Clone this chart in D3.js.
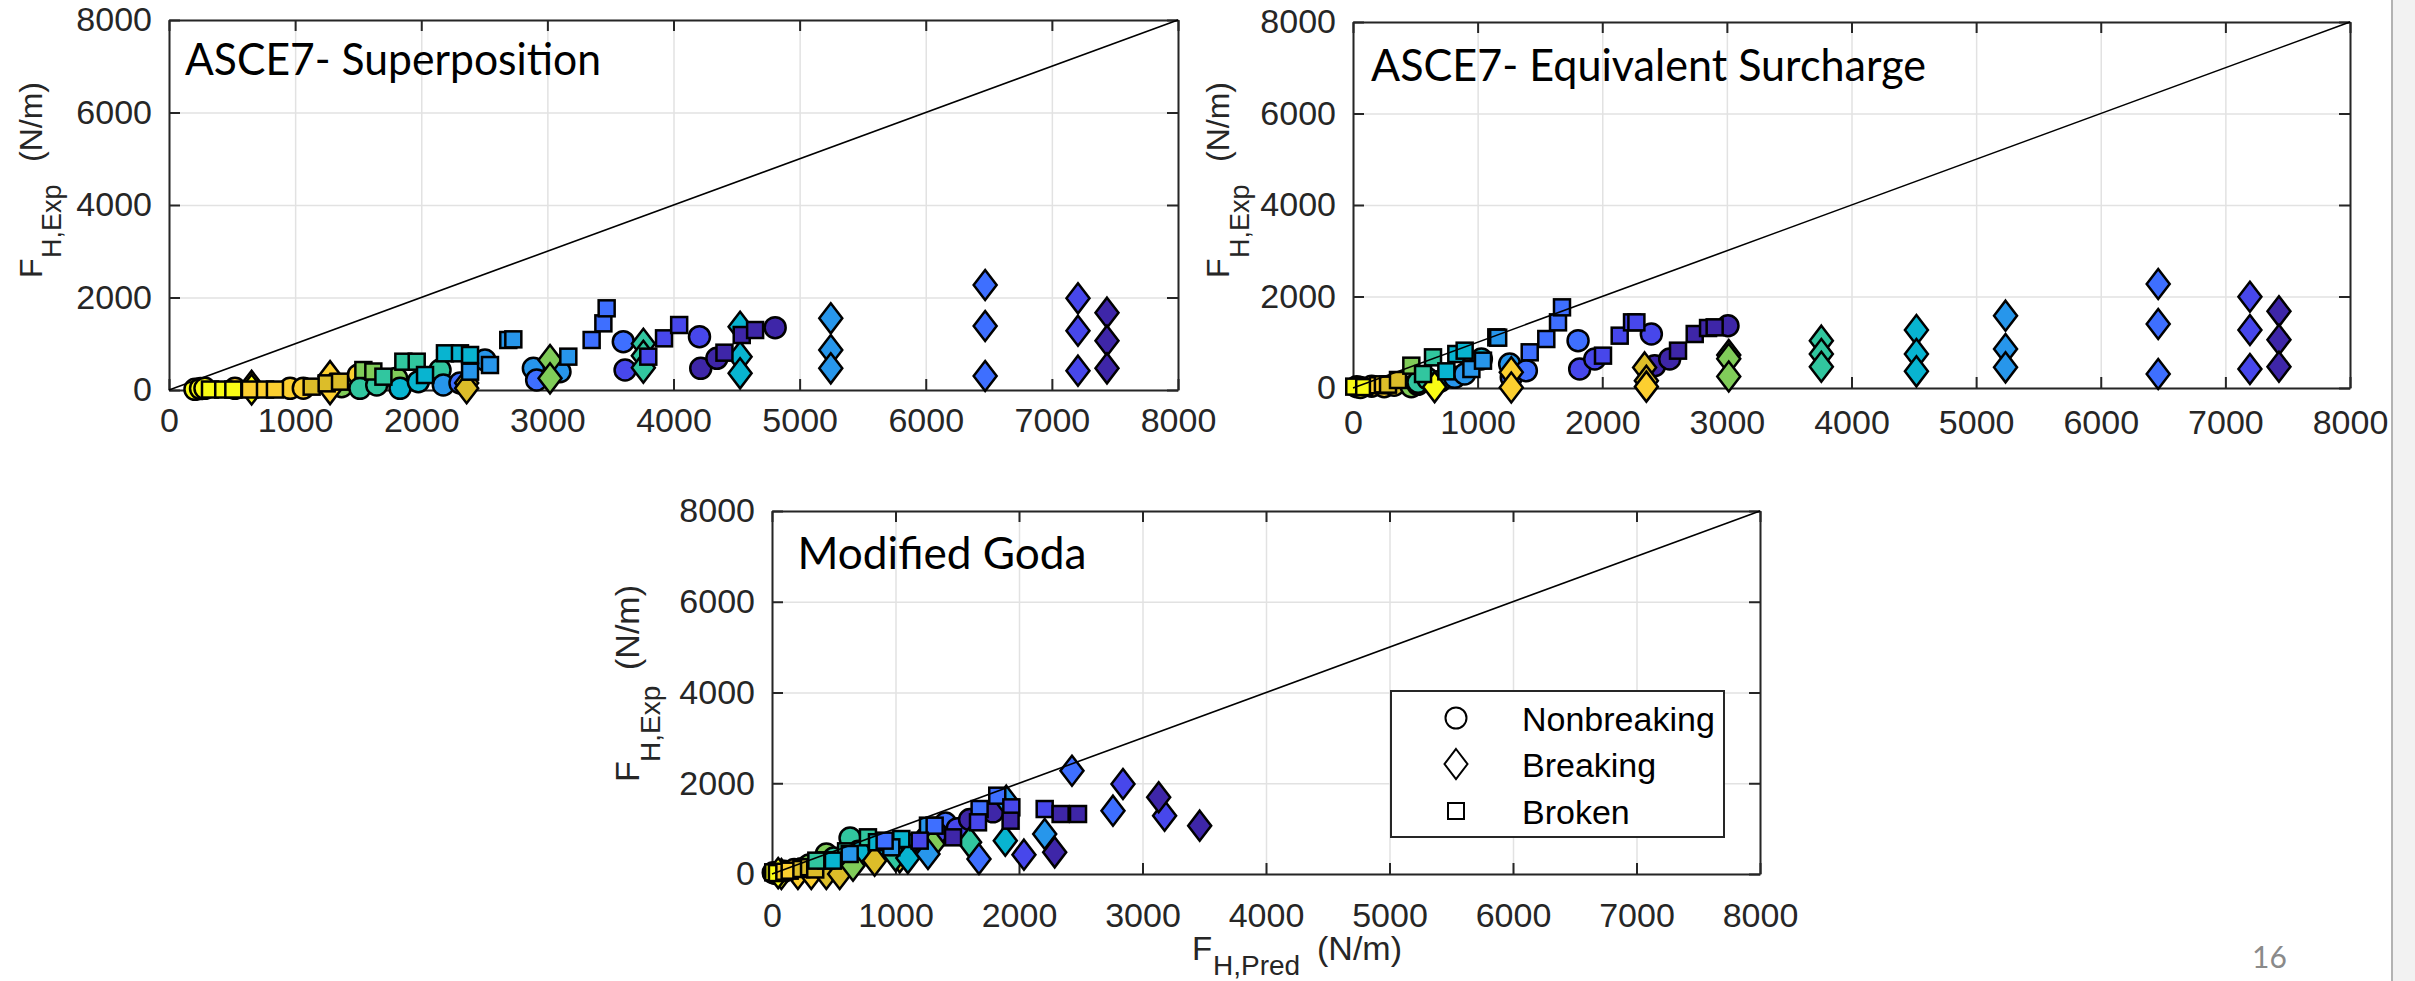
<!DOCTYPE html>
<html><head><meta charset="utf-8">
<script src="https://cdn.jsdelivr.net/npm/d3@7"></script>
<style>body{margin:0;background:#fff;}svg{display:block;}</style>
</head><body>
<svg id="c" width="2415" height="981"></svg>
<script>
// ---------------- DATA ----------------
// parula colour classes (0 = dark violet ... 9 = yellow)
const parula = ["#3e26a8","#4747eb","#3e6fff","#2796eb","#08b4d0","#31c69f","#80cc59","#dcbd29","#fccf30","#f9fb15"];
const xTicks = [0,1000,2000,3000,4000,5000,6000,7000,8000];
const yTicks = [0,2000,4000,6000,8000];
const panelTitles = ["ASCE7- Superposition","ASCE7- Equivalent Surcharge","Modified Goda"];
const legendLabels = ["Nonbreaking","Breaking","Broken"];
const pageNumber = "16";

// each point: [F_H,Pred (N/m), F_H,Exp (N/m), colour class]
const supCircles = [[206,14,9],[250,30,9],[285,36,9],[523,36,8],[960,36,8],[1065,40,8],[1501,324,8],
  [1369,72,6],[1805,252,6],[1514,36,5],[1647,108,5],[2149,432,5],[1832,36,4],[1977,180,4],
  [2175,108,3],[2505,649,3],[2889,468,3],[3100,396,3],[2307,150,2],[2915,216,2],[3602,1045,2],
  [3616,432,1],[4206,1153,1],[4216,468,0],[4344,685,0],[4806,1348,0]];
const supSquares = [[325,10,9],[430,10,9],[510,10,9],[642,10,8],[761,10,8],[840,10,8],
  [1131,72,7],[1250,144,7],[1356,180,7],[1541,432,6],[1620,400,6],[1700,288,5],[1858,612,5],[1964,612,5],
  [2030,324,4],[2188,793,4],[2307,793,4],[2387,757,4],[2387,396,3],[2545,540,3],[2690,1081,3],[2730,1095,3],[3166,721,3],
  [3351,1081,2],[3444,1441,2],[3470,1766,2],[3800,721,1],[3925,1117,1],[4045,1405,1],
  [4404,807,0],[4541,1189,0],[4647,1297,0]];
const supDiamonds = [[655,90,9],[655,10,9],[1277,300,8],[1277,20,8],[2360,150,7],[2360,40,7],
  [3021,649,6],[3021,252,6],[3761,1000,5],[3761,740,5],[3761,480,5],[4528,1369,4],[4528,721,4],[4528,360,4],
  [5247,1549,3],[5247,865,3],[5247,468,3],[6471,2270,2],[6471,1384,2],[6471,303,2],
  [7207,1982,1],[7207,1283,1],[7207,418,1],[7437,1672,0],[7437,1067,0],[7437,468,0]];

const eqCircles = [[30,30,9],[60,10,9],[150,40,8],[250,30,8],[330,60,7],[468,30,6],[520,80,6],
  [522,124,5],[600,200,5],[700,150,4],[1030,634,4],[816,233,3],[896,306,3],[1257,525,3],
  [1270,233,2],[1391,379,2],[1806,1035,2],[1819,415,1],[1940,634,1],[2394,1180,1],
  [2421,488,0],[2541,634,0],[3009,1362,0]];
const eqSquares = [[10,30,9],[90,20,9],[200,60,8],[240,80,8],[281,73,7],[361,175,7],[468,488,6],
  [562,306,5],[642,670,5],[749,364,4],[829,743,4],[896,816,4],[950,415,3],[1043,597,3],[1150,1107,3],[1165,1100,3],
  [1418,780,2],[1551,1071,2],[1645,1435,2],[1677,1763,2],[2006,707,1],[2140,1144,1],[2239,1435,1],[2274,1435,1],
  [2608,816,0],[2742,1180,0],[2849,1311,0],[2902,1326,0]];
const eqDiamonds = [[655,20,9],[1270,342,8],[1270,10,8],[2340,450,7],[2354,160,7],[2354,30,8],
  [3015,720,6],[3015,640,6],[3015,250,6],[3758,1035,5],[3758,743,5],[3758,466,5],
  [4521,1268,4],[4521,743,4],[4521,364,4],[5236,1581,3],[5236,852,3],[5236,452,3],
  [6461,2273,2],[6461,1399,2],[6461,306,2],[7197,1996,1],[7197,1268,1],[7197,415,1],
  [7430,1676,0],[7430,1056,0],[7430,466,0]];

const godaCircles = [[10,30,9],[30,10,9],[100,60,8],[180,100,8],[250,120,7],[300,200,6],[440,440,6],
  [500,350,5],[632,793,5],[700,500,4],[900,650,4],[1100,650,3],[1250,800,3],
  [1405,1124,2],[1603,1190,2],[1330,900,1],[1500,1000,1],[1600,1200,0],[1789,1370,0]];
const godaSquares = [[10,37,9],[40,20,9],[100,50,8],[143,73,8],[238,110,7],[300,150,7],[350,100,7],[440,300,6],
  [359,294,5],[777,808,5],[600,500,5],[494,294,4],[850,700,4],[1047,771,4],[629,441,3],[966,588,3],[1263,1065,3],
  [912,735,2],[1317,1065,2],[1681,1432,2],[1824,1726,2],[1196,735,1],[1668,1139,1],[1938,1469,1],[2208,1432,1],
  [1466,808,0],[1932,1175,0],[2337,1322,0],[2478,1322,0]];
const godaDiamonds = [[76,0,9],[50,20,9],[210,0,8],[318,0,8],[440,0,7],[548,0,7],[831,294,7],[1034,367,7],
  [656,184,6],[1304,661,6],[1000,400,5],[1600,698,5],[1100,350,4],[1889,735,4],
  [1263,441,3],[1897,1616,3],[2208,882,3],[1676,331,2],[2429,2277,2],[2761,1396,2],
  [2040,426,1],[2842,1983,1],[3179,1286,1],[2289,477,0],[3131,1690,0],[3463,1065,0]];

// ---------------- LAYOUT ----------------
const W = 2415, H = 981;
const AX = "#262626";
const MFONT = "'Liberation Sans', Arial, sans-serif";
const TFONT = "Lato, 'Open Sans', sans-serif";
const MSW = 2.5; // marker edge width

const svg = d3.select("#c");
svg.append("rect").attr("width", W).attr("height", H).attr("fill", "#fff");
svg.append("rect").attr("x", 2393).attr("y", 0).attr("width", W - 2393).attr("height", H).attr("fill", "#f2f2f2");
svg.append("line").attr("x1", 2392).attr("x2", 2392).attr("y1", 0).attr("y2", H)
  .attr("stroke", "#9a9a9a").attr("stroke-width", 1.5);

const panels = [
  {name: panelTitles[0], circles: supCircles, squares: supSquares, diamonds: supDiamonds,
   box: {l: 169, r: 1178, t: 20, b: 390}, xPad: 18, tpos: {x: 185, y: 75, len: 416},
   ylab: {x: 41.5, y: 278, fm: 32, fs: 27, subX: 20, subDy: 19.5, unitX: 116}},
  {name: panelTitles[1], circles: eqCircles, squares: eqSquares, diamonds: eqDiamonds,
   box: {l: 1353, r: 2350, t: 22, b: 388}, xPad: 22, tpos: {x: 1371, y: 81, len: 555},
   ylab: {x: 1229, y: 278, fm: 32, fs: 27, subX: 20, subDy: 19.5, unitX: 116}},
  {name: panelTitles[2], circles: godaCircles, squares: godaSquares, diamonds: godaDiamonds,
   box: {l: 772, r: 1760, t: 511, b: 874}, xPad: 29, tpos: {x: 797.5, y: 569, len: 289},
   ylab: {x: 639, y: 782, fm: 34, fs: 28, subX: 20, subDy: 20.5, unitX: 112}, legend: true, xlab: true}
];

function styleAxis(sel, withText) {
  sel.select(".domain").attr("stroke", AX).attr("stroke-width", 2);
  sel.selectAll(".tick line").attr("stroke", AX).attr("stroke-width", 2);
  sel.selectAll(".tick text").attr("fill", AX).attr("font-family", MFONT).attr("font-size", 34);
  if (!withText) sel.selectAll(".tick text").remove();
}

function diamondPath(cx, cy) {
  const p = d3.path();
  p.moveTo(cx, cy - 15); p.lineTo(cx + 11.5, cy); p.lineTo(cx, cy + 15); p.lineTo(cx - 11.5, cy); p.closePath();
  return p.toString();
}

panels.forEach(P => {
  const {l, r, t, b} = P.box;
  const x = d3.scaleLinear().domain([0, 8000]).range([l, r]);
  const y = d3.scaleLinear().domain([0, 8000]).range([b, t]);
  const g = svg.append("g");

  // grid
  g.append("g").attr("transform", `translate(0,${b})`)
    .call(d3.axisBottom(x).tickValues(xTicks).tickSize(-(b - t)).tickFormat(""))
    .call(s => { s.select(".domain").remove(); s.selectAll("line").attr("stroke", "#e2e2e2").attr("stroke-width", 1.5); });
  g.append("g").attr("transform", `translate(${l},0)`)
    .call(d3.axisLeft(y).tickValues(yTicks).tickSize(-(r - l)).tickFormat(""))
    .call(s => { s.select(".domain").remove(); s.selectAll("line").attr("stroke", "#e2e2e2").attr("stroke-width", 1.5); });

  // axes (box, inward ticks)
  g.append("g").attr("transform", `translate(0,${b})`)
    .call(d3.axisBottom(x).tickValues(xTicks).tickSizeInner(-11).tickSizeOuter(0).tickPadding(P.xPad).tickFormat(d3.format("d")))
    .call(s => styleAxis(s, true));
  g.append("g").attr("transform", `translate(${l},0)`)
    .call(d3.axisLeft(y).tickValues(yTicks).tickSizeInner(-11).tickSizeOuter(0).tickPadding(17).tickFormat(d3.format("d")))
    .call(s => styleAxis(s, true));
  g.append("g").attr("transform", `translate(0,${t})`)
    .call(d3.axisTop(x).tickValues(xTicks).tickSizeInner(-11).tickSizeOuter(0))
    .call(s => styleAxis(s, false));
  g.append("g").attr("transform", `translate(${r},0)`)
    .call(d3.axisRight(y).tickValues(yTicks).tickSizeInner(-11).tickSizeOuter(0))
    .call(s => styleAxis(s, false));

  // markers
  g.append("g").selectAll("circle").data(P.circles).join("circle")
    .attr("cx", d => x(d[0])).attr("cy", d => y(d[1])).attr("r", 10.5)
    .attr("fill", d => parula[d[2]]).attr("stroke", "#000").attr("stroke-width", MSW);
  g.append("g").selectAll("path").data(P.diamonds).join("path")
    .attr("d", d => diamondPath(x(d[0]), y(d[1])))
    .attr("fill", d => parula[d[2]]).attr("stroke", "#000").attr("stroke-width", MSW);
  g.append("g").selectAll("rect").data(P.squares).join("rect")
    .attr("x", d => x(d[0]) - 8).attr("y", d => y(d[1]) - 8).attr("width", 16).attr("height", 16)
    .attr("fill", d => parula[d[2]]).attr("stroke", "#000").attr("stroke-width", MSW);

  // 1:1 line
  g.append("line").attr("x1", x(0)).attr("y1", y(0)).attr("x2", x(8000)).attr("y2", y(8000))
    .attr("stroke", "#000").attr("stroke-width", 1.6);

  // title
  g.append("text").attr("x", P.tpos.x).attr("y", P.tpos.y)
    .attr("textLength", P.tpos.len).attr("lengthAdjust", "spacingAndGlyphs")
    .attr("font-family", TFONT).attr("font-size", 44).attr("fill", "#000").text(P.name);

  // y label
  const yl = P.ylab;
  const yg = g.append("g").attr("transform", `translate(${yl.x},${yl.y}) rotate(-90)`)
    .attr("font-family", MFONT).attr("fill", AX);
  yg.append("text").attr("x", 0).attr("y", 0).attr("font-size", yl.fm).text("F");
  yg.append("text").attr("x", yl.subX).attr("y", yl.subDy).attr("font-size", yl.fs).text("H,Exp");
  yg.append("text").attr("x", yl.unitX).attr("y", 0).attr("font-size", yl.fm).text("(N/m)");

  if (P.xlab) {
    const xg = g.append("g").attr("font-family", MFONT).attr("fill", AX);
    xg.append("text").attr("x", 1192).attr("y", 960).attr("font-size", 33).text("F");
    xg.append("text").attr("x", 1213).attr("y", 975).attr("font-size", 28).text("H,Pred");
    xg.append("text").attr("x", 1317).attr("y", 960).attr("font-size", 34).text("(N/m)");
  }

  if (P.legend) {
    const lg = g.append("g");
    lg.append("rect").attr("x", 1391).attr("y", 691).attr("width", 333).attr("height", 146)
      .attr("fill", "#fff").attr("stroke", AX).attr("stroke-width", 2);
    const rows = [718, 764, 811];
    const mk = lg.append("g").attr("fill", "none").attr("stroke", "#000").attr("stroke-width", 2);
    legendLabels.forEach((lab, i) => {
      const cy = rows[i], cx = 1456;
      if (i === 0) mk.append("circle").attr("cx", cx).attr("cy", cy).attr("r", 10.5);
      if (i === 1) mk.append("path").attr("d", diamondPath(cx, cy));
      if (i === 2) mk.append("rect").attr("x", cx - 8).attr("y", cy - 8).attr("width", 16).attr("height", 16);
      lg.append("text").attr("x", 1522).attr("y", cy + 12.5).attr("font-family", MFONT)
        .attr("font-size", 34).attr("fill", "#000").text(lab);
    });
  }
});

svg.append("text").attr("x", 2252).attr("y", 968).attr("font-family", TFONT).attr("font-size", 30)
  .attr("fill", "#8a8a8a").text(pageNumber);
</script>
</body></html>
